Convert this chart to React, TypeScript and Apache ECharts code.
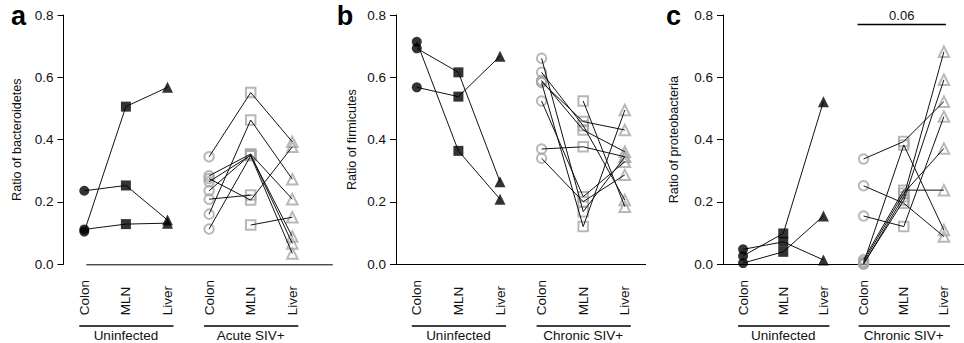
import React, { useEffect, useRef } from "react";
import * as echarts from "echarts";

// ---------------- data ----------------
const categories = ["Colon", "MLN", "Liver", "Colon", "MLN", "Liver"];
const yTickLabels = ["0.0", "0.2", "0.4", "0.6", "0.8"];
const yTitles = ["Ratio of bacteroidetes", "Ratio of firmicutes", "Ratio of proteobacteria"];
const panelLetters = ["a", "b", "c"];
const groupNamesA = ["Uninfected", "Acute SIV+"];
const groupNamesB = ["Uninfected", "Chronic SIV+"];
const groupNamesC = ["Uninfected", "Chronic SIV+"];
const pValueC = "0.06";

// each row: [Colon, MLN, Liver] for one animal
const aUninfected = [
  [0.105, 0.506, 0.568],
  [0.236, 0.253, 0.142],
  [0.112, 0.129, 0.132],
];
const aAcute = [
  [0.345, 0.551, 0.393],
  [0.161, 0.463, 0.273],
  [0.284, 0.354, 0.209],
  [0.265, 0.35, 0.089],
  [0.236, 0.352, 0.067],
  [0.113, 0.348, 0.035],
  [0.275, 0.206, 0.377],
  [0.209, 0.222, null],
  [null, 0.126, 0.151],
];
const bUninfected = [
  [0.693, 0.616, 0.265],
  [0.714, 0.364, 0.209],
  [0.568, 0.538, 0.668],
];
const bChronic = [
  [0.661, 0.169, 0.345],
  [0.583, 0.121, 0.495],
  [0.524, 0.217, 0.329],
  [0.34, 0.201, 0.287],
  [0.616, 0.445, 0.206],
  [0.59, 0.431, 0.361],
  [0.585, 0.458, 0.431],
  [0.37, 0.377, 0.345],
  [null, 0.524, 0.185],
];
const cUninfected = [
  [0.027, 0.099, 0.522],
  [0.048, 0.072, 0.014],
  [0.004, 0.04, 0.155],
];
const cChronic = [
  [0.338, 0.394, 0.522],
  [0.252, 0.196, 0.089],
  [0.155, 0.121, 0.474],
  [0.004, 0.383, 0.11],
  [0.0, 0.217, 0.682],
  [0.015, 0.238, 0.238],
  [0.002, 0.205, 0.592],
  [0.008, 0.228, 0.372],
];

// ---------------- style ----------------
const FONT = '"Liberation Sans", Arial, Helvetica, sans-serif';
const INK = "#000";
const LINE = "#111";
const TEXT = "#111";
const GRAY = "#a6a6a6";
const SHAPES = ["circle", "rect", "triangle"];

const panels = [
  {
    letter: panelLetters[0], title: yTitles[0], groups: [aUninfected, aAcute], names: groupNamesA,
    grid: { left: 63.5, top: 15, width: 249.6, height: 249.3 }, nameGap: 40, letterX: 18.5,
    ownBaseline: true, pValue: null as string | null,
  },
  {
    letter: panelLetters[1], title: yTitles[1], groups: [bUninfected, bChronic], names: groupNamesB,
    grid: { left: 396, top: 15, width: 249.6, height: 249.3 }, nameGap: 37.5, letterX: 345,
    ownBaseline: false, pValue: null as string | null,
  },
  {
    letter: panelLetters[2], title: yTitles[2], groups: [cUninfected, cChronic], names: groupNamesC,
    grid: { left: 723, top: 15, width: 250, height: 249.3 }, nameGap: 42.5, letterX: 673.5,
    ownBaseline: false, pValue: pValueC,
  },
];

export default function App() {
  const ref = useRef<HTMLDivElement>(null);

  useEffect(() => {
    if (!ref.current) return;
    const chart = echarts.init(ref.current, undefined, { renderer: "svg" });

    const grids: any[] = [];
    const xAxes: any[] = [];
    const yAxes: any[] = [];
    const series: any[] = [];

    panels.forEach((p, pi) => {
      grids.push({ ...p.grid, containLabel: false });
      xAxes.push({
        gridIndex: pi,
        type: "category",
        data: categories,
        boundaryGap: true,
        axisLine: { show: !p.ownBaseline, lineStyle: { color: INK, width: 1 } },
        axisTick: { show: false },
        axisLabel: {
          interval: 0,
          rotate: 90,
          align: "left",
          verticalAlign: "middle",
          margin: 51,
          fontSize: 13.5,
          fontFamily: FONT,
          color: TEXT,
        },
        splitLine: { show: false },
      });
      yAxes.push({
        gridIndex: pi,
        type: "value",
        min: 0,
        max: 0.8,
        interval: 0.2,
        axisLine: { show: true, lineStyle: { color: INK, width: 1 } },
        axisTick: { show: true, length: 6, lineStyle: { color: INK, width: 1 } },
        axisLabel: {
          margin: 10,
          fontSize: 13.5,
          fontFamily: FONT,
          color: TEXT,
          formatter: (v: number) => yTickLabels[Math.round(v / 0.2)],
        },
        splitLine: { show: false },
        name: p.title,
        nameLocation: "middle",
        nameGap: p.nameGap,
        nameTextStyle: { fontSize: 12.6, fontFamily: FONT, color: TEXT },
      });

      p.groups.forEach((rows, gi) => {
        const filled = gi === 0;
        rows.forEach((row) => {
          series.push({
            type: "line",
            xAxisIndex: pi,
            yAxisIndex: pi,
            data: row.map((v, i) => [gi * 3 + i, v]),
            symbol: "none",
            connectNulls: false,
            lineStyle: { color: LINE, width: 1 },
            silent: true,
            z: 3,
          });
        });
        const pts: any[] = [];
        rows.forEach((row) =>
          row.forEach((v, i) => {
            if (v !== null) pts.push([gi * 3 + i, v]);
          })
        );
        series.push({
          type: "scatter",
          xAxisIndex: pi,
          yAxisIndex: pi,
          data: pts,
          symbol: (val: number[]) => SHAPES[val[0] % 3],
          symbolSize: filled
            ? (val: number[]) => (val[0] % 3 === 2 ? 11 : 10)
            : (val: number[]) => (val[0] % 3 === 2 ? 10.5 : 9.5),
          itemStyle: filled
            ? { color: INK }
            : { color: "rgba(255,255,255,0)", borderColor: GRAY, borderWidth: 2 },
          silent: true,
          z: filled ? 4 : 2,
        });
      });
    });

    chart.setOption({
      animation: false,
      backgroundColor: "#fff",
      grid: grids,
      xAxis: xAxes,
      yAxis: yAxes,
      series,
    });

    const graphics: any[] = [];
    panels.forEach((p, pi) => {
      const px = (cat: number, val: number) =>
        chart.convertToPixel({ gridIndex: pi } as any, [cat, val]) as number[];
      const base = px(0, 0)[1];
      graphics.push({
        type: "text",
        style: {
          text: p.letter, x: p.letterX, y: 16, align: "center", verticalAlign: "middle",
          fontSize: 27, fontWeight: "bold", fontFamily: FONT, fill: "#000",
        },
      });
      if (p.ownBaseline) {
        graphics.push({
          type: "line",
          shape: { x1: px(0, 0)[0] + 2, y1: base + 0.5, x2: px(5, 0)[0] + 40.5, y2: base + 0.5 },
          style: { stroke: INK, lineWidth: 1 },
        });
      }
      p.names.forEach((name, gi) => {
        const x0 = px(gi * 3, 0)[0];
        const x1 = px(gi * 3 + 2, 0)[0];
        const xm = px(gi * 3 + 1, 0)[0];
        graphics.push({
          type: "line",
          shape: { x1: x0 - 5, y1: 326, x2: x1 + 6, y2: 326 },
          style: { stroke: INK, lineWidth: 1.3 },
        });
        graphics.push({
          type: "text",
          style: {
            text: name, x: xm, y: 335, align: "center", verticalAlign: "middle",
            fontSize: 13.5, fontFamily: FONT, fill: TEXT,
          },
        });
      });
      if (p.pValue) {
        const xa = px(3, 0)[0] - 6;
        const xb = px(5, 0)[0] + 2;
        graphics.push({
          type: "line",
          shape: { x1: xa, y1: 24.5, x2: xb, y2: 24.5 },
          style: { stroke: INK, lineWidth: 1.3 },
        });
        graphics.push({
          type: "text",
          style: {
            text: p.pValue, x: (xa + xb) / 2, y: 15.5, align: "center", verticalAlign: "middle",
            fontSize: 13, fontFamily: FONT, fill: TEXT,
          },
        });
      }
    });
    chart.setOption({ graphic: graphics });

    return () => chart.dispose();
  }, []);

  return (
    <div
      ref={ref}
      style={{ position: "absolute", left: 0, top: 0, width: 964, height: 343, background: "#fff" }}
    />
  );
}
